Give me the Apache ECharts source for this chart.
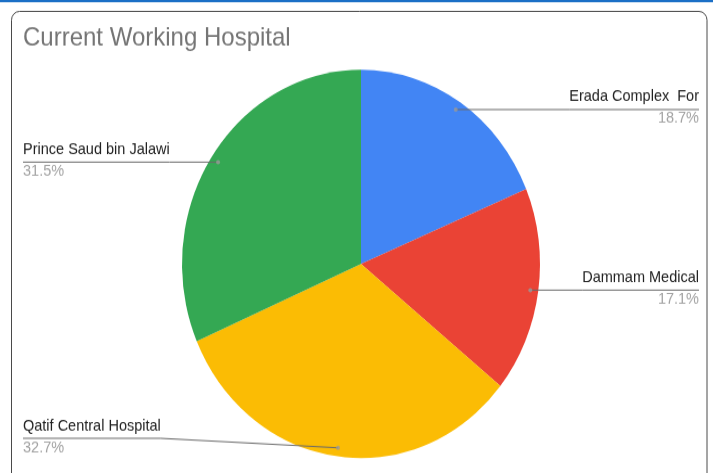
<!DOCTYPE html>
<html>
<head>
<meta charset="utf-8">
<script src="https://cdn.jsdelivr.net/npm/echarts@6/dist/echarts.min.js"></script>
<style>
html,body{margin:0;padding:0;background:#fff;overflow:hidden;}
#wrap{width:713px;height:473px;overflow:hidden;}
#chart{width:713px;height:436px;transform:scaleY(1.084862);transform-origin:0 0;}
</style>
</head>
<body>
<div id="wrap"><div id="chart"></div></div>
<script>
// Data
const titleText = 'Current Working Hospital';
const categories = ['Erada Complex  For', 'Dammam Medical', 'Qatif Central Hospital', 'Prince Saud bin Jalawi'];
const values = [18.7, 17.1, 32.7, 31.5];
const colors = ['#4285f4', '#ea4335', '#fbbc04', '#34a853'];

// Layout constants (unscaled canvas space)
const CX = 361, CY = 243.3, R = 179, R_DOT = 171;
const LEFT_EDGE = 23, RIGHT_EDGE = 699, BOTTOM_LIMIT = 404;

const total = values.reduce((a, b) => a + b, 0);
let acc = 0;
const dotData = values.map(v => { const mid = acc + v / 2; acc += v; return [1, mid / total * 100]; });

const pieData = categories.map((c, i) => ({ name: c, value: values[i], itemStyle: { color: colors[i] } }));

const chart = echarts.init(document.getElementById('chart'), null, { renderer: 'canvas' });
chart.setOption({
  backgroundColor: '#fff',
  animation: false,
  title: {
    text: titleText, left: 23, top: 23, padding: 0,
    textStyle: { fontFamily: 'Liberation Sans, Arial', fontSize: 24, fontWeight: 'normal', color: '#757575' }
  },
  graphic: [
    { type: 'rect', left: 0, top: 0, shape: { width: 713, height: 1.9 }, style: { fill: '#1b6fc6' }, z: 100 },
    { type: 'rect', shape: { x: 11.5, y: 10.5, width: 695.5, height: 470, r: 8 }, style: { fill: 'none', stroke: '#4a4a4a', lineWidth: 1 }, z: 100 }
  ],
  polar: { center: [CX, CY], radius: R_DOT },
  angleAxis: { type: 'value', min: 0, max: 100, startAngle: 90, clockwise: true,
    axisLine: { show: false }, axisTick: { show: false }, axisLabel: { show: false }, splitLine: { show: false } },
  radiusAxis: { type: 'value', min: 0, max: 1,
    axisLine: { show: false }, axisTick: { show: false }, axisLabel: { show: false }, splitLine: { show: false } },
  series: [
    {
      type: 'pie', center: [CX, CY], radius: R, startAngle: 90, clockwise: true,
      data: pieData, label: { show: false }, labelLine: { show: false },
      emphasis: { disabled: true }, silent: true, z: 1
    },
    {
      type: 'pie', center: [CX, CY], radius: R_DOT, startAngle: 90, clockwise: true,
      avoidLabelOverlap: false, silent: true, emphasis: { disabled: true }, z: 3,
      data: categories.map((c, i) => ({ name: c, value: values[i] })),
      itemStyle: { color: 'rgba(0,0,0,0)' },
      label: {
        show: true,
        formatter: p => '{n|' + p.name + '}\n{p|' + p.value.toFixed(1) + '%}',
        rich: {
          n: { fontFamily: 'Liberation Sans, Arial', fontSize: 14.5, color: '#222', lineHeight: 19 },
          p: { fontFamily: 'Liberation Sans, Arial', fontSize: 14.5, color: '#a3a3a3', lineHeight: 21 }
        }
      },
      labelLine: { show: true, length: 10, length2: 10, lineStyle: { color: '#6a6a6a', width: 1 } },
      labelLayout: function (params) {
        const pts = params.labelLinePoints;
        if (!pts) return {};
        const p0 = pts[0];
        const right = p0[0] > CX;
        const y = Math.min(p0[1], BOTTOM_LIMIT);
        const w = params.labelRect.width;
        const outer = right ? RIGHT_EDGE : LEFT_EDGE;
        const inner = right ? RIGHT_EDGE - w : LEFT_EDGE + w;
        return {
          x: outer, y: y - 1, align: right ? 'right' : 'left', verticalAlign: 'middle',
          labelLinePoints: [p0, [inner, y], [outer, y]]
        };
      }
    },
    {
      type: 'scatter', coordinateSystem: 'polar', data: dotData, symbolSize: 4,
      itemStyle: { color: '#9a9a9a' }, silent: true, z: 4
    }
  ]
});
</script>
</body>
</html>
